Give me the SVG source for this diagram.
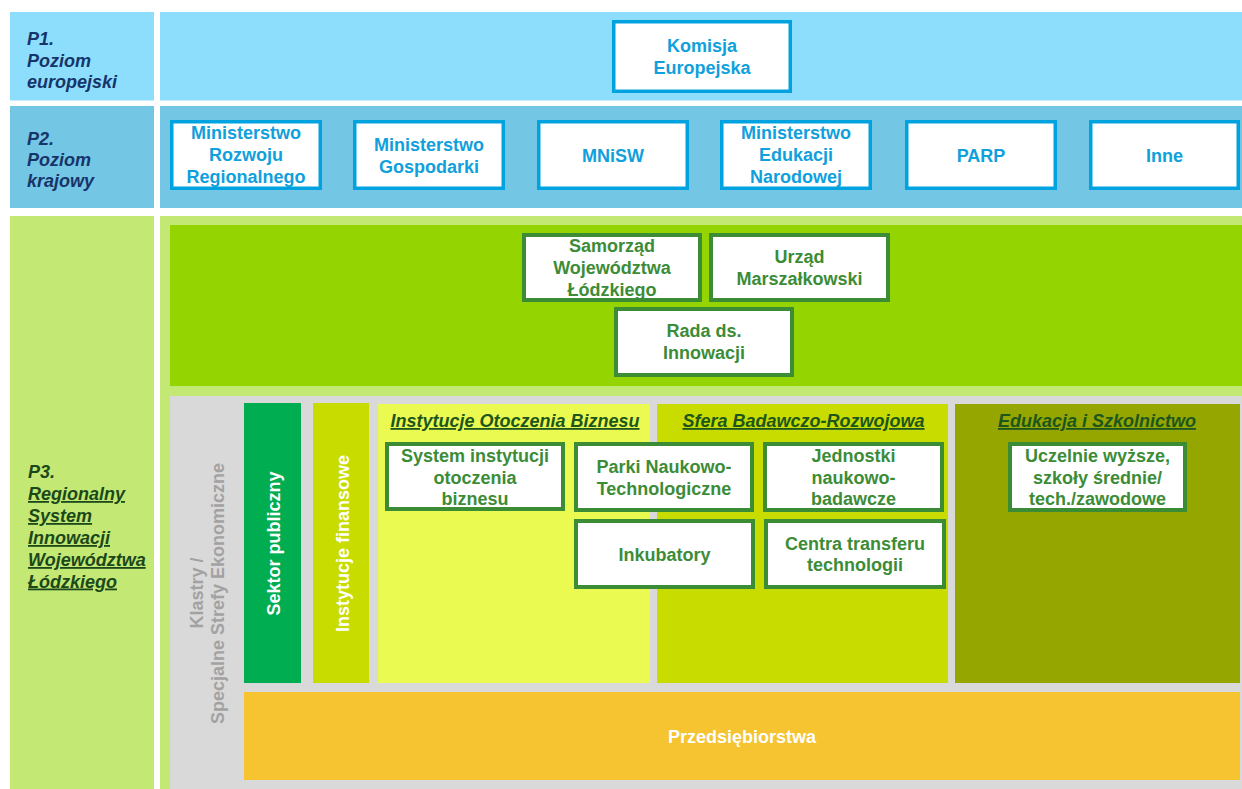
<svg xmlns="http://www.w3.org/2000/svg" width="1242" height="789" viewBox="0 0 1242 789">
<style>
text{font-family:"Liberation Sans",Arial,sans-serif;font-weight:bold;font-size:18px;text-anchor:middle}
.lbl{text-anchor:start;font-style:italic;font-size:18px}
.navy{fill:#17346A}
.dg{fill:#1B481B}
.ul{text-decoration:underline}
.bbox{fill:#fff;stroke:#00A3E0;stroke-width:3.5}
.btxt{fill:#10A0DC}
.gbox{fill:#fff;stroke:#3C8C35;stroke-width:4}
.gtxt{fill:#3C8C37}
.hdr{fill:#1D561D;font-style:italic;text-decoration:underline}
.wt{fill:#fff}
.gy{fill:#A2A2A2}
</style>
<!-- background bands -->
<g id="bands">
<rect x="10" y="12" width="144" height="88.5" fill="#8DDEFC"/>
<rect x="160" y="12" width="1082" height="88.5" fill="#8DDEFC"/>
<rect x="10" y="106" width="144" height="102" fill="#73C6E4"/>
<rect x="160" y="106" width="1082" height="102" fill="#73C6E4"/>
<rect x="10" y="216" width="144" height="573" fill="#C3E873"/>
<rect x="160" y="216" width="1082" height="573" fill="#C3E873"/>
<rect x="170" y="225" width="1072" height="161" fill="#94D400"/>
<rect x="170" y="396" width="1072" height="393" fill="#D9D9D9"/>
</g>
<g id="level-labels">
<text class="lbl navy" x="27" y="45">P1.</text>
<text class="lbl navy" x="27" y="66.5">Poziom</text>
<text class="lbl navy" x="27" y="88">europejski</text>
<text class="lbl navy" x="27" y="145">P2.</text>
<text class="lbl navy" x="27" y="166">Poziom</text>
<text class="lbl navy" x="27" y="187">krajowy</text>
<text class="lbl dg" x="28" y="478">P3.</text>
<text class="lbl dg ul" x="28" y="500">Regionalny</text>
<text class="lbl dg ul" x="28" y="522">System</text>
<text class="lbl dg ul" x="28" y="544">Innowacji</text>
<text class="lbl dg ul" x="28" y="566">Województwa</text>
<text class="lbl dg ul" x="28" y="587.5">Łódzkiego</text>
</g>
<g id="komisja">
<rect class="bbox" x="613.75" y="21.75" width="176.5" height="69.5"/>
<text class="btxt" x="702" y="52">Komisja</text>
<text class="btxt" x="702" y="74">Europejska</text>
</g>
<g id="mrr">
<rect class="bbox" x="171.75" y="121.75" width="148.5" height="66.5"/>
<text class="btxt" x="246" y="139">Ministerstwo</text>
<text class="btxt" x="246" y="161">Rozwoju</text>
<text class="btxt" x="246" y="183">Regionalnego</text>
</g>
<g id="mg">
<rect class="bbox" x="354.75" y="121.75" width="148.5" height="66.5"/>
<text class="btxt" x="429" y="151">Ministerstwo</text>
<text class="btxt" x="429" y="173">Gospodarki</text>
</g>
<g id="mnisw">
<rect class="bbox" x="538.75" y="121.75" width="148.5" height="66.5"/>
<text class="btxt" x="613" y="161.5">MNiSW</text>
</g>
<g id="men">
<rect class="bbox" x="721.75" y="121.75" width="148.5" height="66.5"/>
<text class="btxt" x="796" y="139">Ministerstwo</text>
<text class="btxt" x="796" y="161">Edukacji</text>
<text class="btxt" x="796" y="183">Narodowej</text>
</g>
<g id="parp">
<rect class="bbox" x="906.75" y="121.75" width="148.5" height="66.5"/>
<text class="btxt" x="981" y="161.5">PARP</text>
</g>
<g id="inne">
<rect class="bbox" x="1090.75" y="121.75" width="147.5" height="66.5"/>
<text class="btxt" x="1164.5" y="161.5">Inne</text>
</g>
<g id="samorzad">
<rect class="gbox" x="524" y="235" width="176" height="65"/>
<text class="gtxt" x="612" y="252">Samorząd</text>
<text class="gtxt" x="612" y="274">Województwa</text>
<text class="gtxt" x="612" y="296">Łódzkiego</text>
</g>
<g id="urzad">
<rect class="gbox" x="711" y="235" width="177" height="65"/>
<text class="gtxt" x="799.5" y="263">Urząd</text>
<text class="gtxt" x="799.5" y="285">Marszałkowski</text>
</g>
<g id="rada">
<rect class="gbox" x="616" y="309" width="176" height="66"/>
<text class="gtxt" x="704" y="337">Rada ds.</text>
<text class="gtxt" x="704" y="359">Innowacji</text>
</g>
<g id="klastry">
<text class="gy" transform="translate(196,593) rotate(-90)" y="6.5">Klastry /</text>
<text class="gy" transform="translate(217.5,593.5) rotate(-90)" y="6.5">Specjalne Strefy Ekonomiczne</text>
</g>
<g id="sektor-publiczny">
<rect x="244" y="403" width="57" height="280" fill="#00AD50"/>
<text class="wt" transform="translate(273,543.5) rotate(-90)" y="6.5">Sektor publiczny</text>
</g>
<g id="instytucje-finansowe">
<rect x="313" y="403" width="56" height="280" fill="#C8DC00"/>
<text class="wt" transform="translate(342,543.5) rotate(-90)" y="6.5">Instytucje finansowe</text>
</g>
<g id="iob">
<rect x="378" y="404" width="272" height="279" fill="#EBFA50"/>
<text class="hdr" x="515" y="427">Instytucje Otoczenia Biznesu</text>
</g>
<g id="sfera">
<rect x="657" y="404" width="291" height="279" fill="#C8DC00"/>
<text class="hdr" x="803.5" y="427">Sfera Badawczo-Rozwojowa</text>
</g>
<g id="edukacja">
<rect x="955" y="404" width="285" height="279" fill="#96A600"/>
<text class="hdr" x="1097" y="427">Edukacja i Szkolnictwo</text>
</g>
<g id="system">
<rect class="gbox" x="387" y="444" width="176" height="65"/>
<text class="gtxt" x="475" y="462">System instytucji</text>
<text class="gtxt" x="475" y="483.5">otoczenia</text>
<text class="gtxt" x="475" y="504.5">biznesu</text>
</g>
<g id="parki">
<rect class="gbox" x="576" y="444" width="176" height="66"/>
<text class="gtxt" x="664" y="473">Parki Naukowo-</text>
<text class="gtxt" x="664" y="495">Technologiczne</text>
</g>
<g id="jednostki">
<rect class="gbox" x="765" y="444" width="177" height="66"/>
<text class="gtxt" x="853.5" y="462">Jednostki</text>
<text class="gtxt" x="853.5" y="483.5">naukowo-</text>
<text class="gtxt" x="853.5" y="505">badawcze</text>
</g>
<g id="inkubatory">
<rect class="gbox" x="576" y="521" width="177" height="66"/>
<text class="gtxt" x="664.5" y="560.5">Inkubatory</text>
</g>
<g id="centra">
<rect class="gbox" x="766" y="521" width="178" height="66"/>
<text class="gtxt" x="855" y="549.5">Centra transferu</text>
<text class="gtxt" x="855" y="571">technologii</text>
</g>
<g id="uczelnie">
<rect class="gbox" x="1010" y="444" width="175" height="66"/>
<text class="gtxt" x="1097.5" y="462">Uczelnie wyższe,</text>
<text class="gtxt" x="1097.5" y="483.5">szkoły średnie/</text>
<text class="gtxt" x="1097.5" y="504.5">tech./zawodowe</text>
</g>
<g id="przedsiebiorstwa">
<rect x="244" y="692" width="996" height="88" fill="#F6C430"/>
<text class="wt" x="742" y="743">Przedsiębiorstwa</text>
</g>
<g id="connectors"></g>
</svg>
